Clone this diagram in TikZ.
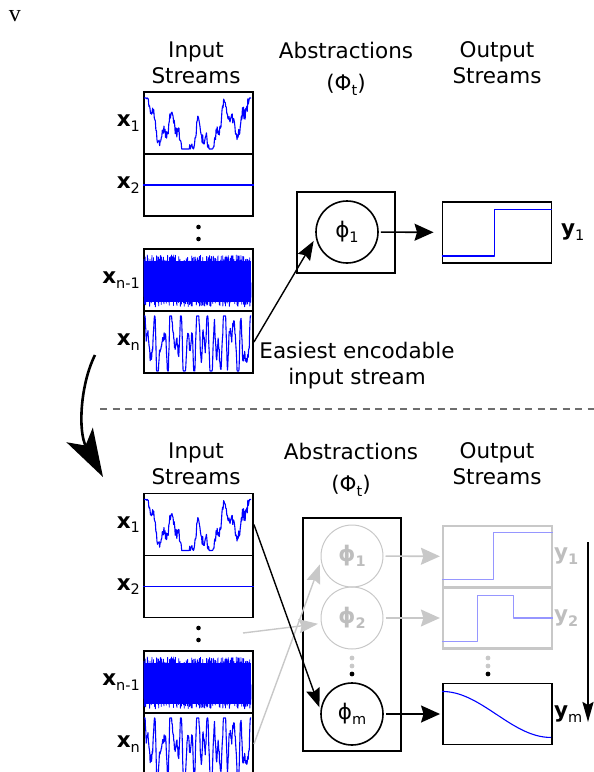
\documentclass[tikz,border=0pt]{standalone}
\usepackage{fontspec}
\setmainfont{DejaVu Sans}
\newfontfamily\markfont{Liberation Serif}
\usepackage{tikz}
\usetikzlibrary{arrows.meta, positioning, calc}
\definecolor{sigblue}{RGB}{0, 0, 255}
\definecolor{faded}{RGB}{200, 200, 200}
\definecolor{fadedtext}{RGB}{190, 190, 190}
\definecolor{fadedblue}{RGB}{150, 150, 255}
\definecolor{rule}{RGB}{110, 110, 110}
\newcommand{\headfont}{\fontsize{21.5}{26}\selectfont}
\newcommand{\smallsub}{\fontsize{14.5}{15}\selectfont}
\newcommand{\stlabel}[2]{\textbf{#1}\raisebox{-4.5pt}{\smallsub #2}}
\newcommand{\abslabel}[1]{ϕ\raisebox{-4.5pt}{\smallsub #1}}
\tikzstyle{stream} = [rectangle, draw, line width=1.9pt, minimum width=109pt, minimum height=62pt, inner sep=0pt]
\tikzstyle{outbox} = [rectangle, draw, line width=1.9pt, minimum width=109pt, minimum height=61pt, inner sep=0pt]
\tikzstyle{absbox} = [rectangle, draw, line width=1.3pt, minimum width=98pt, inner sep=0pt]
\tikzstyle{absnode} = [circle, draw, line width=1.6pt, minimum size=62pt, inner sep=0pt, font=\headfont]
\tikzstyle{faint} = [text=fadedtext, font=\headfont\bfseries]
\tikzstyle{sig} = [sigblue, line width=1.1pt, line join=round]
\tikzstyle{head} = [align=center, font=\headfont, inner sep=0pt]
\tikzstyle{tag} = [font=\headfont, inner sep=0pt]
\tikzstyle{arrow} = [line width=1.6pt, -{Stealth[length=19pt, width=17pt, inset=2.5pt]}]
\tikzstyle{thinarrow} = [line width=1.4pt, -{Stealth[length=19pt, width=14pt, inset=2.5pt]}]

% the four kinds of input signal, drawn inside a stream box
\newcommand{\slowsignal}[1]{%
  \pgfmathsetseed{11}
  \begin{scope}[shift={(#1.south west)}]
    \draw[sig] plot[domain=1:108, samples=200, variable=\t]
      (\t, {-6-51*min(1,max(0,0.38+0.3*cos(3.6*\t)+0.32*sin(14*\t+30)+0.14*sin(41*\t)+0.22*(rnd-0.5)))});
  \end{scope}}
\newcommand{\flatsignal}[1]{\draw[sig] (#1.west) -- (#1.east);}
\newcommand{\noisesignal}[1]{%
  \pgfmathsetseed{5}
  \begin{scope}[shift={(#1.south west)}]
    \fill[sigblue] (1,-10) rectangle (108,-51);
    \draw[sig, line width=0.8pt] plot[domain=1:108, samples=900, variable=\t] (\t, {-5-52*rnd});
  \end{scope}}
\newcommand{\fastsignal}[1]{%
  \pgfmathsetseed{23}
  \begin{scope}[shift={(#1.south west)}]
    \draw[sig] plot[domain=1:108, samples=300, variable=\t]
      (\t, {-3-55*min(1,max(0,0.5+0.38*sin(41*\t)+0.28*sin(67*\t+40)+0.2*sin(13*\t+70)+0.12*sin(97*\t)+0.16*(rnd-0.5)))});
  \end{scope}}

\begin{document}
\begin{tikzpicture}[x=1pt, y=-1pt]
    \useasboundingbox (0,0) rectangle (594,772);

    \node[font=\markfont\fontsize{24}{24}\selectfont, inner sep=0pt] (mark) at (15,16) {v};

    % ---- one abstraction ----
    \node[head] (inhead) at (196,63) {Input\\Streams};
    \node[head] (abshead) at (346,69) {Abstractions\\[6pt](Φ\raisebox{-4.5pt}{\smallsub t})};
    \node[head] (outhead) at (497,63) {Output\\Streams};

    % input streams
    \node[stream] (xa) at (198.5,123) {};
    \node[stream] (xb) at (198.5,185) {};
    \node[stream] (xc) at (198.5,280) {};
    \node[stream] (xd) at (198.5,342) {};
    \slowsignal{xa}
    \flatsignal{xb}
    \noisesignal{xc}
    \fastsignal{xd}
    \node[tag, left=3pt of xa] (xalab) {\stlabel{x}{1}};
    \node[tag, left=3pt of xb] (xblab) {\stlabel{x}{2}};
    \node[tag, left=3pt of xc] (xclab) {\stlabel{x}{n-1}};
    \node[tag, left=3pt of xd] (xdlab) {\stlabel{x}{n}};
    \fill (198.5,227) circle (2.3) (198.5,239) circle (2.3);

    % abstraction and its output
    \node[absbox, minimum height=81pt] (absa) at (346,232.5) {};
    \node[absnode] (phia) at (347,232) {\abslabel{1}};
    \node[outbox] (ya) at (497,232.5) {};
    \node[tag, anchor=west] (yalab) at (561,232) {\stlabel{y}{1}};
    \draw[sig] ($(ya.south west)+(0,-8)$) -- ++(53,0) |- ($(ya.north east)+(0,8)$);

    \draw[arrow, shorten <=2pt, shorten >=8pt] (phia) -- (ya);
    \draw[thinarrow, shorten >=4pt] (xd.east) -- (phia.190);
    \node[head] (easy) at (357,366) {Easiest encodable\\input stream};

    % separator and move to the next step
    \coordinate (cutL) at (100,409);
    \coordinate (cutR) at (594,409);
    \draw[rule, line width=1.1pt, dash pattern=on 7pt off 5.5pt] (cutL) -- (cutR);
    \coordinate (moveA) at (95,355);
    \coordinate (moveB) at (103,477);
    \draw[line width=2.6pt, -{Stealth[length=48pt, width=30pt, inset=12pt]}] (moveA) .. controls (80,385) and (78,432) .. (moveB);

    % ---- m abstractions ----
    \node[head] (inhead2) at (196,464) {Input\\Streams};
    \node[head] (abshead2) at (351,470) {Abstractions\\[6pt](Φ\raisebox{-4.5pt}{\smallsub t})};
    \node[head] (outhead2) at (497,464) {Output\\Streams};

    \node[stream] (xa2) at (198.5,524.5) {};
    \node[stream] (xb2) at (198.5,586.5) {};
    \node[stream] (xc2) at (198.5,682) {};
    \node[stream] (xd2) at (198.5,744) {};
    \slowsignal{xa2}
    \flatsignal{xb2}
    \noisesignal{xc2}
    \fastsignal{xd2}
    \node[tag, left=3pt of xa2] (xa2lab) {\stlabel{x}{1}};
    \node[tag, left=3pt of xb2] (xb2lab) {\stlabel{x}{2}};
    \node[tag, left=3pt of xc2] (xc2lab) {\stlabel{x}{n-1}};
    \node[tag, left=3pt of xd2] (xd2lab) {\stlabel{x}{n}};
    \fill (198.5,628) circle (2.3) (198.5,640) circle (2.3);

    % abstractions
    \node[absbox, minimum height=233pt] (absb) at (352,634.5) {};
    \node[absnode, faint, draw=faded, line width=1pt] (phib1) at (352,556) {\abslabel{1}};
    \node[absnode, faint, draw=faded, line width=1pt] (phib2) at (352,618) {\abslabel{2}};
    \node[absnode] (phibm) at (352,714) {\abslabel{m}};
    \fill[faded] (352,658) circle (2.4) (352,666) circle (2.4);
    \fill (352,674) circle (2.4);

    % outputs
    \node[outbox, draw=faded, line width=2.2pt] (yb1) at (497.5,556.5) {};
    \node[outbox, draw=faded, line width=2.2pt] (yb2) at (497.5,618) {};
    \node[outbox] (ybm) at (497.5,714) {};
    \fill[faded] (488,658) circle (2.4) (488,666) circle (2.4);
    \fill (488,674) circle (2.4);
    \draw[sig, fadedblue] ($(yb1.south west)+(0,-9)$) -- ++(52,0) |- ($(yb1.north east)+(0,8)$);
    \draw[sig, fadedblue] ($(yb2.south west)+(0,-8)$) -- ++(36,0) |- ($(yb2.north west)+(72,9)$) |- (yb2.east);
    \begin{scope}[shift={(ybm.south west)}]
        \draw[sig] plot[domain=0:109, samples=60, variable=\t] (\t, {-31-23*cos(1.6514*\t)});
    \end{scope}
    \node[tag, faint, anchor=west] (yb1lab) at (554,556) {y\raisebox{-4.5pt}{\smallsub\bfseries 1}};
    \node[tag, faint, anchor=west] (yb2lab) at (554,618) {y\raisebox{-4.5pt}{\smallsub\bfseries 2}};
    \node[tag, anchor=west] (ybmlab) at (554,714) {\stlabel{y}{m}};

    % connections
    \draw[arrow, faded, shorten <=2pt, shorten >=2pt] (phib1) -- (yb1);
    \draw[arrow, faded, shorten <=2pt, shorten >=2pt] (phib2) -- (yb2);
    \draw[arrow, shorten <=2pt, shorten >=2pt] (phibm) -- (ybm);
    \coordinate (xgap) at (243,633);
    \draw[thinarrow, faded, shorten >=3pt] (xgap) -- (phib2.190);
    \draw[thinarrow, faded, shorten >=3pt] (xd2.east) -- (phib1.190);
    \draw[thinarrow, shorten >=3pt] (xa2.east) -- (phibm.173);

    % ordering of the outputs
    \coordinate (orderA) at (588,542);
    \coordinate (orderB) at (588,722);
    \draw[line width=2.2pt, -{Stealth[length=20pt, width=11pt, inset=3pt]}] (orderA) -- (orderB);
\end{tikzpicture}
\end{document}
